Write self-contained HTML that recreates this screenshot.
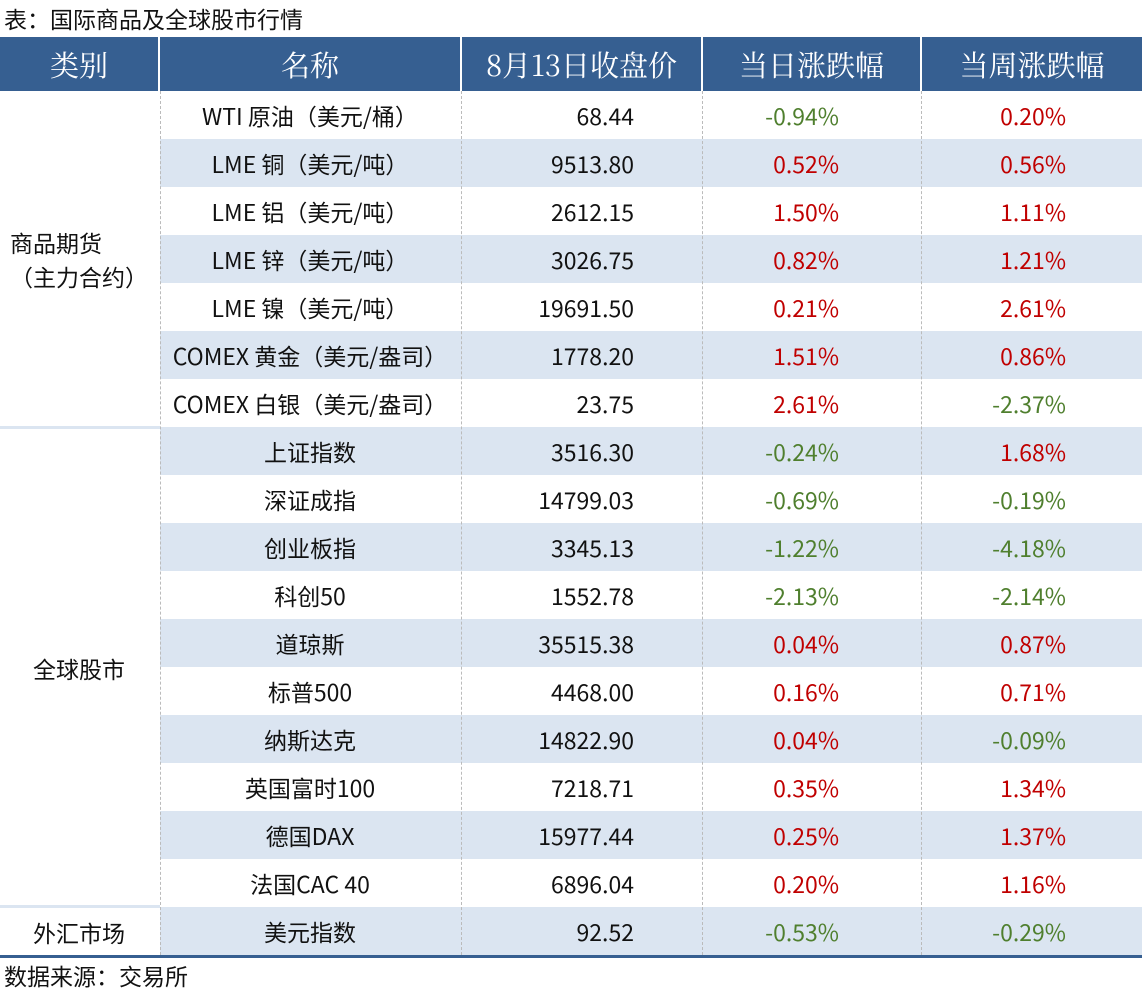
<!DOCTYPE html>
<html><head><meta charset="utf-8"><style>
body{margin:0;width:1142px;height:993px;background:#fff;position:relative;overflow:hidden;font-family:"Noto Sans CJK SC","Liberation Sans",sans-serif;}
.a{position:absolute;box-sizing:border-box;}
.c{display:flex;align-items:center;justify-content:center;font-size:23px;color:#111;}
.r{display:flex;align-items:center;justify-content:flex-end;font-size:23px;}
.h{background:#365f91;color:#fff;font-size:29px;display:flex;align-items:center;justify-content:center;height:54px;top:37px;font-family:"Noto Serif CJK SC","Liberation Serif",serif;}
</style></head><body>
<div class="a" style="left:4px;top:1px;font-size:23px;color:#111;">表：国际商品及全球股市行情</div>
<div class="a h" style="left:0;width:158px;">类别</div>
<div class="a h" style="left:160px;width:300px;">名称</div>
<div class="a h" style="left:462px;width:239px;">8月13日收盘价</div>
<div class="a h" style="left:703px;width:217px;">当日涨跌幅</div>
<div class="a h" style="left:922px;width:220px;">当周涨跌幅</div>
<div id="body"></div>
<div class="a c" style="left:0;top:91px;width:158px;height:336px;flex-direction:column;line-height:34px;">商品期货<br>（主力合约）</div>
<div class="a" style="left:0;top:426px;width:160px;height:3px;background:#dbe5f1;"></div>
<div class="a c" style="left:0;top:429px;width:158px;height:477px;">全球股市</div>
<div class="a" style="left:0;top:905px;width:160px;height:3px;background:#dbe5f1;"></div>
<div class="a c" style="left:0;top:908px;width:158px;height:47px;">外汇市场</div>
<div class="a" style="left:0;top:955px;width:1142px;height:3px;background:#365f91;"></div>
<div class="a" style="left:4px;top:958px;font-size:23px;color:#111;">数据来源：交易所</div>
<script>
const names=["WTI 原油（美元/桶）","LME 铜（美元/吨）","LME 铝（美元/吨）","LME 锌（美元/吨）","LME 镍（美元/吨）","COMEX 黄金（美元/盎司）","COMEX 白银（美元/盎司）","上证指数","深证成指","创业板指","科创50","道琼斯","标普500","纳斯达克","英国富时100","德国DAX","法国CAC 40","美元指数"];
const prices=["68.44","9513.80","2612.15","3026.75","19691.50","1778.20","23.75","3516.30","14799.03","3345.13","1552.78","35515.38","4468.00","14822.90","7218.71","15977.44","6896.04","92.52"];
const daily=[-0.94,0.52,1.50,0.82,0.21,1.51,2.61,-0.24,-0.69,-1.22,-2.13,0.04,0.16,0.04,0.35,0.25,0.20,-0.53];
const weekly=[0.20,0.56,1.11,1.21,2.61,0.86,-2.37,1.68,-0.19,-4.18,-2.14,0.87,0.71,-0.09,1.34,1.37,1.16,-0.29];
const body=document.getElementById('body');
function cell(cls,l,t,w,txt,color){const d=document.createElement('div');d.className='a '+cls;d.style.cssText=`left:${l}px;top:${t}px;width:${w}px;height:48px;`+(color?`color:${color};`:'');d.textContent=txt;body.appendChild(d);return d;}
for(let i=0;i<names.length;i++){
 const y=91+i*48;
 const bg=document.createElement('div');bg.className='a';
 bg.style.cssText=`left:160px;top:${y}px;width:982px;height:48px;background:${i%2?'#dbe5f1':'#fff'};`;
 
 
 body.appendChild(bg);
 const n=cell('c',160,y,300,names[i]);
 
 
 const p=cell('r',462,y,172,prices[i],'#111');
 
 
 const dd=cell('r',703,y,136,daily[i].toFixed(2)+'%',daily[i]<0?'#4f7f2e':'#c00000');
 
 
 const w=cell('r',922,y,144,weekly[i].toFixed(2)+'%',weekly[i]<0?'#4f7f2e':'#c00000');
 
 
}
[160,461,702,921].forEach(x=>{const v=document.createElement('div');v.className='a';
 v.style.cssText=`left:${x}px;top:91px;width:0;height:864px;border-left:1px dashed #bbb;`;
 
 
 body.appendChild(v);});
</script>
</body></html>
